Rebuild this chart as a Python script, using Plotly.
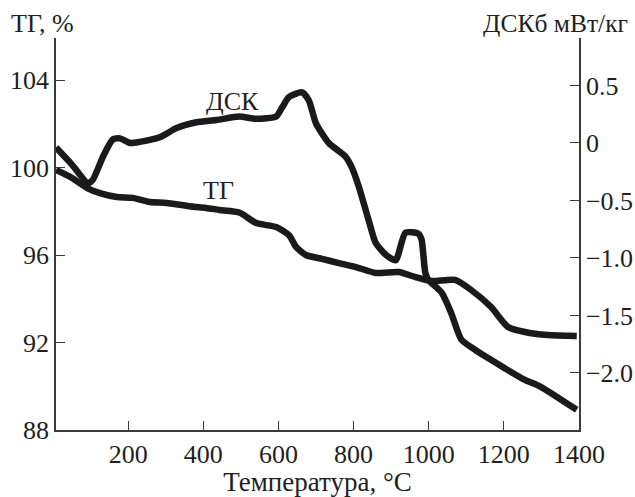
import plotly.graph_objects as go

# DSC curve (right axis, mW/kg)
dsc_t = [8, 51, 93, 106, 133, 159, 178, 205, 231, 284, 329, 382, 435, 496, 541, 594, 610, 628, 663,
         681, 700, 734, 779, 795, 814, 840, 859, 885, 912, 938, 973, 981, 991, 999, 1034, 1060, 1087,
         1124, 1158, 1203, 1256, 1298, 1394]
dsc_v = [-0.04, -0.19, -0.35, -0.32, -0.12, 0.03, 0.04, 0.0, 0.01, 0.05, 0.13, 0.18, 0.2, 0.23, 0.21, 0.23, 0.31, 0.4, 0.44,
         0.37, 0.17, 0.0, -0.12, -0.21, -0.38, -0.67, -0.87, -0.97, -1.02, -0.78, -0.79, -0.84, -1.13, -1.19, -1.30, -1.48, -1.71,
         -1.80, -1.87, -1.96, -2.06, -2.12, -2.32]

# TG curve (left axis, %)
tg_t = [8, 46, 91, 125, 170, 212, 257, 302, 382, 408, 443, 496, 541, 594, 628, 647, 673, 716, 761, 806,
        859, 920, 965, 1007, 1070, 1113, 1166, 1211, 1256, 1317, 1394]
tg_v = [99.89, 99.57, 99.06, 98.83, 98.65, 98.61, 98.42, 98.38, 98.19, 98.15, 98.06, 97.94, 97.46, 97.28, 96.91, 96.37,
        96.0, 95.82, 95.63, 95.45, 95.18, 95.22, 94.99, 94.81, 94.86, 94.40, 93.62, 92.71, 92.48, 92.34, 92.30]

x_ticks = [200, 400, 600, 800, 1000, 1200, 1400]
tg_ticks = [88, 92, 96, 100, 104]
dsc_ticks = [-2.0, -1.5, -1.0, -0.5, 0, 0.5]
dsc_tick_text = ["\u22122.0", "\u22121.5", "\u22121.0", "\u22120.5", "0", "0.5"]

FONT = "Liberation Serif"
TXT = "#231f20"
AX = "#3a3a3a"
FS = 26

fig = go.Figure()
fig.add_trace(go.Scatter(x=tg_t, y=tg_v, mode="lines", yaxis="y",
                         line=dict(color="#1a1a1a", width=6.5, shape="spline", smoothing=0.6),
                         showlegend=False))
fig.add_trace(go.Scatter(x=dsc_t, y=dsc_v, mode="lines", yaxis="y2",
                         line=dict(color="#1a1a1a", width=6.5, shape="spline", smoothing=0.6),
                         showlegend=False))

fig.update_layout(
    width=635, height=497,
    margin=dict(l=56, r=56, t=38, b=67, autoexpand=False),
    paper_bgcolor="white", plot_bgcolor="white",
    font=dict(family=FONT, size=FS, color=TXT),
    xaxis=dict(range=[8, 1400], tickvals=x_ticks, ticks="inside", ticklen=9, tickcolor=AX,
               showline=True, linecolor=AX, linewidth=1.5, showgrid=False, zeroline=False,
               automargin=False,
               tickfont=dict(family=FONT, size=FS, color=TXT),
               title=dict(text="Температура, °C", font=dict(family=FONT, size=27, color=TXT), standoff=2)),
    yaxis=dict(range=[88, 105.92], tickvals=tg_ticks, ticks="inside", ticklen=9, tickcolor=AX,
               showline=True, linecolor=AX, linewidth=1.5, showgrid=False, zeroline=False,
               automargin=False,
               tickfont=dict(family=FONT, size=FS, color=TXT)),
    yaxis2=dict(range=[-2.496, 0.913], tickvals=dsc_ticks, ticktext=dsc_tick_text, overlaying="y",
                side="right", ticks="inside", ticklen=9, tickcolor=AX,
                showline=True, linecolor=AX, linewidth=1.5, showgrid=False, zeroline=False,
                automargin=False,
                tickfont=dict(family=FONT, size=FS, color=TXT)),
    annotations=[
        dict(text="ТГ, %", xref="paper", yref="paper", x=-0.09, y=0.995, xanchor="left", yanchor="bottom",
             showarrow=False, font=dict(family=FONT, size=26, color=TXT)),
        dict(text="ДСКб мВт/кг", xref="paper", yref="paper", x=1.098, y=0.995, xanchor="right", yanchor="bottom",
             showarrow=False, font=dict(family=FONT, size=25.5, color=TXT)),
        dict(text="ДСК", x=478, y=0.365, xref="x", yref="y2", showarrow=False,
             font=dict(family=FONT, size=26, color=TXT)),
        dict(text="ТГ", x=440, y=98.93, xref="x", yref="y", showarrow=False,
             font=dict(family=FONT, size=26, color=TXT)),
    ],
)

fig.write_html("out.html")
